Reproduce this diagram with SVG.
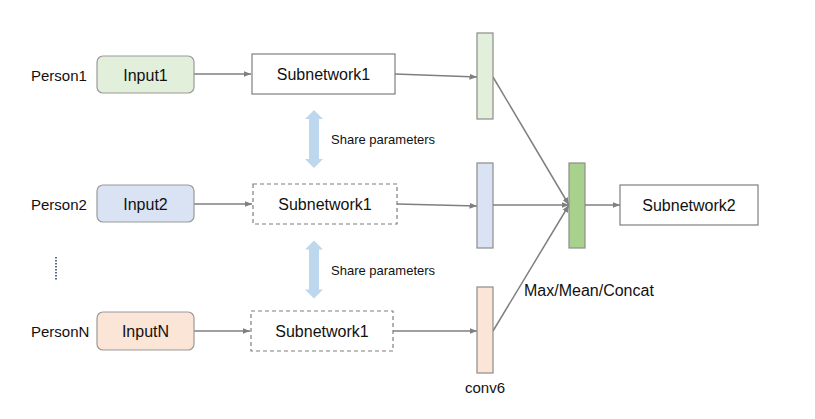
<svg xmlns="http://www.w3.org/2000/svg" width="815" height="419" viewBox="0 0 815 419">
<style>
text{font-family:"Liberation Sans",Arial,sans-serif;fill:#111;dominant-baseline:central}
.lbl{font-size:15px}
.in{font-size:16px;text-anchor:middle}
.sub{font-size:16px;text-anchor:middle}
.sh{font-size:13px}
.box{fill:#fff;stroke:#7f7f7f;stroke-width:1.2}
.dash{stroke-dasharray:4 3}
.inp{stroke:#9a9a9a;stroke-width:1.2}
.col{stroke:#8c8c8c;stroke-width:1.2}
.c{stroke:#7f7f7f;stroke-width:1.5;fill:none;marker-end:url(#ah)}
</style>
<defs>
<marker id="ah" viewBox="0 0 10 10" refX="10" refY="5" markerWidth="5" markerHeight="5" orient="auto" markerUnits="strokeWidth">
<path d="M0,1 L10,5 L0,9 z" fill="#7f7f7f"/>
</marker>
<path id="dbl" d="M0,-29 L9,-20 L5,-20 L5,20 L9,20 L0,29 L-9,20 L-5,20 L-5,-20 L-9,-20 z" fill="#bdd7ee"/>
</defs>
<rect width="815" height="419" fill="#fff"/>
<g id="connectors">
<line class="c" x1="194" y1="74" x2="251" y2="74"/>
<line class="c" x1="395" y1="74" x2="477" y2="77"/>
<line class="c" x1="194" y1="204" x2="252" y2="204"/>
<line class="c" x1="397" y1="204" x2="477" y2="206"/>
<line class="c" x1="194" y1="331" x2="250" y2="331"/>
<line class="c" x1="393" y1="331" x2="477" y2="331"/>
<line class="c" x1="493" y1="77" x2="569" y2="205"/>
<line class="c" x1="493" y1="205" x2="569" y2="205"/>
<line class="c" x1="493" y1="331" x2="569" y2="205"/>
<line class="c" x1="585" y1="205" x2="620" y2="205"/>
</g>
<g id="person1"><text class="lbl" x="31" y="75">Person1</text></g>
<g id="person2"><text class="lbl" x="31" y="204">Person2</text></g>
<g id="personN"><text class="lbl" x="31" y="331">PersonN</text></g>
<g id="dots"><line x1="56" y1="257" x2="56" y2="281" stroke="#1f3864" stroke-width="1.5" stroke-dasharray="1.5 1.5"/></g>
<g id="input1"><rect class="inp" x="97" y="56" width="97" height="37" rx="6" fill="#e2efda"/><text class="in" x="145.5" y="75">Input1</text></g>
<g id="input2"><rect class="inp" x="97" y="185" width="97" height="37" rx="6" fill="#dae3f3"/><text class="in" x="145.5" y="204">Input2</text></g>
<g id="inputN"><rect class="inp" x="97" y="312" width="97" height="38" rx="6" fill="#fbe5d6"/><text class="in" x="145.5" y="331">InputN</text></g>
<g id="sub1a"><rect class="box" x="252" y="54" width="143" height="40"/><text class="sub" x="323.5" y="74">Subnetwork1</text></g>
<g id="sub1b"><rect class="box dash" x="253" y="184" width="144" height="40"/><text class="sub" x="325" y="204">Subnetwork1</text></g>
<g id="sub1c"><rect class="box dash" x="251" y="311" width="142" height="40"/><text class="sub" x="322" y="331">Subnetwork1</text></g>
<g id="share1"><use href="#dbl" x="314" y="139"/><text class="sh" x="331" y="139">Share parameters</text></g>
<g id="share2"><use href="#dbl" x="314" y="269.5"/><text class="sh" x="331" y="270">Share parameters</text></g>
<g id="conv1"><rect class="col" x="477" y="33" width="16" height="86" fill="#e2efda"/></g>
<g id="conv2"><rect class="col" x="477" y="163" width="16" height="85" fill="#dae3f3"/></g>
<g id="conv3"><rect class="col" x="477" y="287" width="16" height="86" fill="#fbe5d6"/></g>
<g id="pool"><rect class="col" x="569" y="163" width="16" height="85" fill="#a9d18e"/></g>
<g id="sub2"><rect class="box" x="620" y="185" width="138" height="40"/><text class="sub" x="689" y="205">Subnetwork2</text></g>
<g id="labels">
<text x="524" y="290" style="font-size:16px">Max/Mean/Concat</text>
<text class="lbl" x="485" y="387" style="text-anchor:middle">conv6</text>
</g>
</svg>
